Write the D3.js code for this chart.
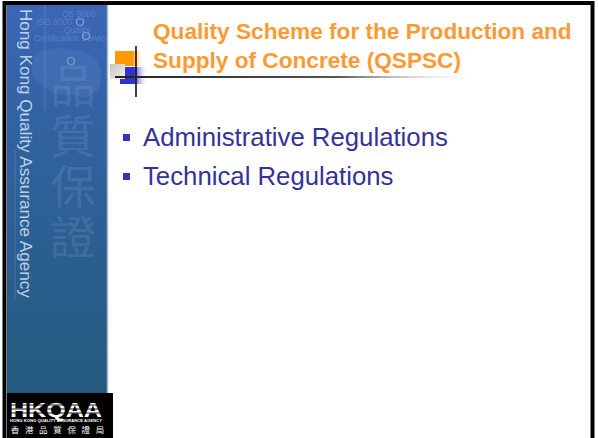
<!DOCTYPE html>
<html><head><meta charset="utf-8">
<script src="https://cdn.jsdelivr.net/npm/d3@7"></script>
<style>html,body{margin:0;padding:0;background:#fff;}svg{display:block;}</style>
</head><body>
<script>
const titleLines = ["Quality Scheme for the Production and", "Supply of Concrete (QSPSC)"];
const bullets = ["Administrative Regulations", "Technical Regulations"];
const sideText = "Hong Kong Quality Assurance Agency";
const watermarkChars = ["品", "質", "保", "證"];
const watermarkWords = ["QS 9000", "ISO 9000", "Quality", "Certification Services"];
const logoText = "HKQAA";
const logoSub = "HONG KONG QUALITY ASSURANCE AGENCY";
const logoChinese = ["香", "港", "品", "質", "保", "證", "局"];

const W = 598, H = 438;
const svg = d3.select("body").append("svg").attr("width", W).attr("height", H);
const defs = svg.append("defs");
const F = "'Liberation Sans', Arial, sans-serif";

function lg(id, stops, x2 = "100%", y2 = "0%") {
  const g = defs.append("linearGradient").attr("id", id)
    .attr("x1", "0%").attr("y1", "0%").attr("x2", x2).attr("y2", y2);
  stops.forEach(s => g.append("stop").attr("offset", s[0]).attr("stop-color", s[1]).attr("stop-opacity", s[2] == null ? 1 : s[2]));
}
lg("panel", [["0%", "#3b66b6"], ["35%", "#30629f"], ["100%", "#245a7e"]], "0%", "100%");
lg("orangeG", [["0%", "#ff9900"], ["60%", "#ff9900"], ["100%", "#ffffff", 0]]);
lg("blueG", [["0%", "#3333cc"], ["50%", "#3333cc"], ["100%", "#ffffff", 0]]);
lg("grayG", [["0%", "#c4c4c4"], ["100%", "#f2f2f2"]], "100%", "100%");
lg("lineG", [["0%", "#222"], ["60%", "#555"], ["100%", "#fff", 0]]);
defs.append("clipPath").attr("id", "pclip").append("rect").attr("x", 7).attr("y", 5).attr("width", 100).attr("height", 388);

function fit(sel, target) {
  const fs = +sel.attr("font-size");
  const w = sel.node().getComputedTextLength();
  sel.attr("font-size", fs * target / w);
}

// frame
svg.append("rect").attr("x", 0).attr("y", 0).attr("width", W).attr("height", H).attr("fill", "#fff");
svg.append("rect").attr("x", 4.5).attr("y", 3).attr("width", 588).attr("height", H + 20)
  .attr("fill", "#fff").attr("stroke", "#000").attr("stroke-width", 4);

// left panel
const panel = svg.append("g").attr("clip-path", "url(#pclip)");
panel.append("rect").attr("x", 7).attr("y", 5).attr("width", 100).attr("height", 388).attr("fill", "url(#panel)");
panel.append("line").attr("x1", 45).attr("x2", 45).attr("y1", 5).attr("y2", 110)
  .attr("stroke", "#6f8fc8").attr("stroke-opacity", 0.5);
panel.append("line").attr("x1", 15).attr("x2", 15).attr("y1", 150).attr("y2", 300)
  .attr("stroke", "#7fa0c0").attr("stroke-opacity", 0.35);

// watermark words
const wmY = d3.scalePoint().domain(watermarkWords).range([17, 41]);
const wmX = {"QS 9000": 62, "ISO 9000": 36, "Quality": 64, "Certification Services": 34};
panel.selectAll("text.wm").data(watermarkWords).join("text")
  .attr("x", d => wmX[d]).attr("y", d => wmY(d))
  .attr("font-family", F).attr("font-size", 8.5).attr("fill", "#7a9ad6").attr("fill-opacity", 0.55)
  .text(d => d);
panel.selectAll("circle.wm").data([[80, 22], [86, 36], [71, 61]]).join("circle")
  .attr("cx", d => d[0]).attr("cy", d => d[1]).attr("r", 3.5)
  .attr("fill", "none").attr("stroke", "#9fb8e6").attr("stroke-opacity", 0.7).attr("stroke-width", 1.2);
panel.append("path")
  .attr("d", "M35,55 C50,45 70,48 85,52 C98,58 104,70 100,85 C96,95 85,100 78,96 C70,92 60,98 52,92 C42,86 30,80 32,68 Z")
  .attr("fill", "#6a8fd0").attr("fill-opacity", 0.22);

// big faint Chinese characters
const chY = d3.scalePoint().domain(watermarkChars).range([102, 254]);
panel.selectAll("text.ch").data(watermarkChars).join("text")
  .attr("x", 73).attr("y", d => chY(d)).attr("text-anchor", "middle")
  .attr("font-family", "'Noto Sans CJK TC', 'Noto Sans CJK SC', sans-serif").attr("font-size", 46)
  .attr("fill", "#8fb0d8").attr("fill-opacity", 0.2)
  .text(d => d);

// right edge line of panel
svg.append("line").attr("x1", 107.5).attr("x2", 107.5).attr("y1", 5).attr("y2", 393)
  .attr("stroke", "#a9b9cc").attr("stroke-width", 1.5);

// vertical text
const vt = svg.append("text").attr("transform", "translate(20,9) rotate(90)")
  .attr("font-family", F).attr("font-size", 16).attr("fill", "#d4e0f2").attr("fill-opacity", 0.9)
  .text(sideText);
fit(vt, 289);

// logo
const logo = svg.append("g");
logo.append("rect").attr("x", 7).attr("y", 393).attr("width", 106).attr("height", 50).attr("fill", "#000");
logo.append("text").attr("x", 10).attr("y", 416.5).attr("font-family", F).attr("font-weight", "bold")
  .attr("font-size", 20).attr("fill", "#fff").attr("textLength", 92).attr("lengthAdjust", "spacingAndGlyphs")
  .text(logoText);
logo.selectAll("line.st").data([405, 409, 413]).join("line")
  .attr("x1", 9).attr("x2", 105).attr("y1", d => d).attr("y2", d => d)
  .attr("stroke", "#000").attr("stroke-width", 0.9);
logo.append("text").attr("x", 10).attr("y", 422).attr("font-family", F).attr("font-weight", "bold")
  .attr("font-size", 3.6).attr("fill", "#fff").attr("textLength", 92).attr("lengthAdjust", "spacingAndGlyphs")
  .text(logoSub);
const cx = d3.scalePoint().domain(logoChinese).range([15, 100]);
logo.selectAll("text.lc").data(logoChinese).join("text")
  .attr("x", d => cx(d)).attr("y", 433).attr("text-anchor", "middle")
  .attr("font-family", "'Noto Sans CJK TC', sans-serif").attr("font-size", 8.5).attr("fill", "#fff")
  .text(d => d);

// title decoration
const deco = svg.append("g");
deco.append("rect").attr("x", 115).attr("y", 51).attr("width", 29).attr("height", 15).attr("fill", "url(#orangeG)");
deco.append("rect").attr("x", 120).attr("y", 67).attr("width", 28).attr("height", 17).attr("fill", "url(#blueG)");
deco.append("rect").attr("x", 110).attr("y", 64).attr("width", 15).attr("height", 15).attr("fill", "url(#grayG)");
deco.append("line").attr("x1", 136).attr("x2", 136).attr("y1", 46).attr("y2", 97).attr("stroke", "#111").attr("stroke-width", 1.6);
deco.append("rect").attr("x", 115).attr("y", 76).attr("width", 370).attr("height", 2).attr("fill", "url(#lineG)");

// title
const tY = d3.scalePoint().domain(titleLines).range([39, 68]);
svg.selectAll("text.title").data(titleLines).join("text")
  .attr("class", "title").attr("x", 153).attr("y", d => tY(d))
  .attr("font-family", F).attr("font-weight", "bold").attr("font-size", 20).attr("fill", "#ff9933")
  .text(d => d);
fit(svg.select("text.title"), 419);
const tfs = svg.select("text.title").attr("font-size");
svg.selectAll("text.title").attr("font-size", tfs);

// bullets
const bY = d3.scalePoint().domain(bullets).range([146, 185]);
svg.selectAll("rect.bul").data(bullets).join("rect")
  .attr("x", 123).attr("y", d => bY(d) - 12).attr("width", 7).attr("height", 7).attr("fill", "#3333bb");
svg.selectAll("text.bul").data(bullets).join("text")
  .attr("class", "bul").attr("x", 143).attr("y", d => bY(d))
  .attr("font-family", F).attr("font-size", 24).attr("fill", "#333399")
  .text(d => d);
fit(svg.select("text.bul"), 305);
const bfs = svg.select("text.bul").attr("font-size");
svg.selectAll("text.bul").attr("font-size", bfs);
</script>
</body></html>
